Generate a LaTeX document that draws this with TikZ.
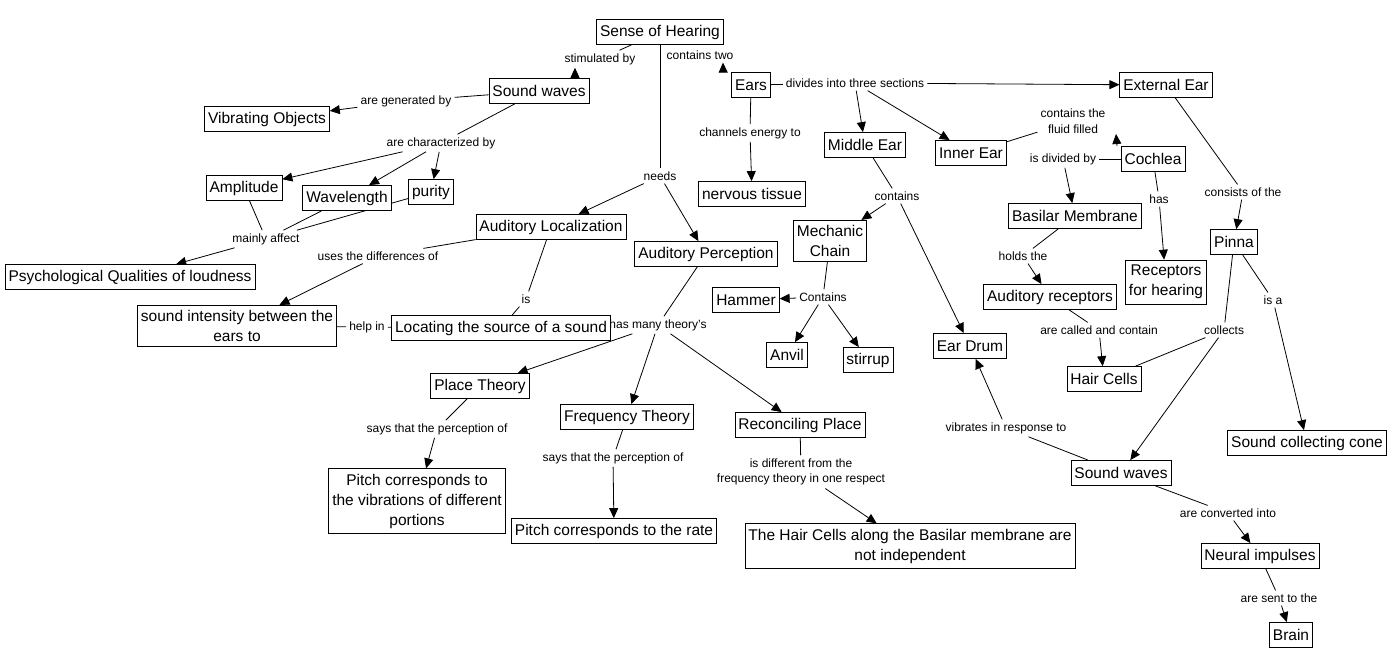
\documentclass[tikz,border=0pt]{standalone}
\usepackage{fontspec}
\setmainfont{Liberation Sans}
\usepackage{tikz}
\usetikzlibrary{arrows.meta}
\pgfdeclarelayer{background}
\pgfsetlayers{background,main}

\begin{document}
\begin{tikzpicture}
  [
    x=1pt, y=-1pt,
    Concept/.style={rectangle, draw=black, fill=white, line width=0.8pt, inner xsep=3.5pt, inner ysep=5pt, minimum height=25pt, align=center, font=\fontsize{15.5}{20}\selectfont},
    Link/.style={inner sep=3pt, align=center, font=\fontsize{12}{15.5}\selectfont},
    Arrow/.style={draw, line width=0.8pt, -{Triangle[length=10pt, width=9pt]}},
    Line/.style={draw, line width=0.8pt}
  ]
  \useasboundingbox (0,0) rectangle (1399,667);
  % Concepts
  \node[Concept] (hearing) at (660,32) {Sense of Hearing};
  \node[Concept] (waves) at (539,91) {Sound waves};
  \node[Concept] (vibrating) at (267,119) {Vibrating Objects};
  \node[Concept] (amplitude) at (244,188) {Amplitude};
  \node[Concept] (wavelength) at (347,198) {Wavelength};
  \node[Concept] (purity) at (431,192) {purity};
  \node[Concept] (loudness) at (130,277) {Psychological Qualities of loudness};
  \node[Concept] (localization) at (551,227) {Auditory Localization};
  \node[Concept] (perception) at (706,254) {Auditory Perception};
  \node[Concept] (intensity) at (237,326) {sound intensity between the\\ears to};
  \node[Concept] (locating) at (501,328) {Locating the source of a sound};
  \node[Concept] (ears) at (751,85) {Ears};
  \node[Concept] (tissue) at (752,194) {nervous tissue};
  \node[Concept] (middle) at (865,145) {Middle Ear};
  \node[Concept] (inner) at (971,153) {Inner Ear};
  \node[Concept] (external) at (1166,85) {External Ear};
  \node[Concept] (cochlea) at (1153,159) {Cochlea};
  \node[Concept] (basilar) at (1075,216) {Basilar Membrane};
  \node[Concept] (receptors) at (1166,282) {Receptors\\for hearing};
  \node[Concept] (pinna) at (1234,242) {Pinna};
  \node[Concept] (audreceptors) at (1050,297) {Auditory receptors};
  \node[Concept] (haircells) at (1104,379) {Hair Cells};
  \node[Concept] (cone) at (1307,443) {Sound collecting cone};
  \node[Concept] (waves2) at (1121,473) {Sound waves};
  \node[Concept] (neural) at (1260,556) {Neural impulses};
  \node[Concept] (brain) at (1291,635) {Brain};
  \node[Concept] (chain) at (830,241) {Mechanic\\Chain};
  \node[Concept] (hammer) at (746,300) {Hammer};
  \node[Concept] (anvil) at (787,355) {Anvil};
  \node[Concept] (stirrup) at (868,360) {stirrup};
  \node[Concept] (drum) at (970,346) {Ear Drum};
  \node[Concept] (place) at (480,386) {Place Theory};
  \node[Concept] (frequency) at (627,417) {Frequency Theory};
  \node[Concept] (reconciling) at (800,425) {Reconciling Place};
  \node[Concept] (pitchvib) at (417,501) {Pitch corresponds to\\the vibrations of different\\portions};
  \node[Concept] (pitchrate) at (614,531) {Pitch corresponds to the rate};
  \node[Concept] (independent) at (910,546) {The Hair Cells along the Basilar membrane are\\not independent};
  % Linking phrases
  \node[Link] (stimulated) at (600,59) {stimulated by};
  \node[Link] (containstwo) at (700,55) {contains two};
  \node[Link] (generated) at (406,101) {are generated by};
  \node[Link] (characterized) at (441,143) {are characterized by};
  \node[Link] (affect) at (266,239) {mainly affect};
  \node[Link] (needs) at (660,176) {needs};
  \node[Link] (differences) at (378,256) {uses the differences of};
  \node[Link] (islink) at (526,299) {is};
  \node[Link] (helpin) at (367,327) {help in};
  \node[Link] (theories) at (658,325) {has many theory's};
  \node[Link] (channels) at (750,133) {channels energy to};
  \node[Link] (divides) at (855,83) {divides into three sections};
  \node[Link] (fluid) at (1073,121) {contains the\\fluid filled};
  \node[Link] (divided) at (1063,159) {is divided by};
  \node[Link] (has) at (1159,199) {has};
  \node[Link] (consists) at (1243,192) {consists of the};
  \node[Link] (contains) at (897,196) {contains};
  \node[Link] (holds) at (1023,256) {holds the};
  \node[Link] (called) at (1099,330) {are called and contain};
  \node[Link] (containsb) at (823,297) {Contains};
  \node[Link] (collects) at (1224,330) {collects};
  \node[Link] (isa) at (1273,300) {is a};
  \node[Link] (vibrates) at (1006,428) {vibrates in response to};
  \node[Link] (saysa) at (437,429) {says that the perception of};
  \node[Link] (saysb) at (613,458) {says that the perception of};
  \node[Link] (different) at (801,472) {is different from the\\frequency theory in one respect};
  \node[Link] (converted) at (1228,513) {are converted into};
  \node[Link] (sent) at (1279,598) {are sent to the};
  \coordinate (fluidtip) at (1116,134);
  % Lines
  \begin{pgfonlayer}{background}
    \path[fill=white] (0,0) rectangle (1399,667);
    \path [Line] (hearing) -- (stimulated);
    \path [Arrow] ([xshift=36pt]waves.north) -- ([xshift=-25pt]stimulated.south);
    \path [Arrow] ([xshift=-8pt]ears.north west) -- ([xshift=23pt]containstwo.south);
    \path [Line] (hearing) -- (needs);
    \path [Arrow] (needs) -- (localization);
    \path [Arrow] (needs) -- (perception);
    \path [Line] (waves) -- (generated);
    \path [Arrow] (generated) -- (vibrating);
    \path [Line] (waves) -- (characterized);
    \path [Arrow] (characterized) -- (amplitude);
    \path [Arrow] (characterized) -- (wavelength);
    \path [Arrow] (characterized) -- (purity);
    \path [Line] (amplitude) -- (affect);
    \path [Line] (wavelength) -- (affect);
    \path [Line] (purity) -- (affect);
    \path [Arrow] (affect) -- (loudness);
    \path [Line] (localization) -- (differences);
    \path [Arrow] (differences) -- (intensity);
    \path [Line] (localization) -- (islink);
    \path [Line] (islink) -- (locating);
    \path [Line] (intensity) -- (helpin);
    \path [Line] (helpin) -- (locating);
    \path [Line] (perception) -- (theories);
    \path [Arrow] (theories) -- (place);
    \path [Arrow] (theories) -- (frequency);
    \path [Arrow] (theories) -- (reconciling);
    \path [Line] (place) -- (saysa);
    \path [Arrow] (saysa) -- (pitchvib);
    \path [Line] (frequency) -- (saysb);
    \path [Arrow] (saysb) -- (pitchrate);
    \path [Line] (reconciling) -- (different);
    \path [Arrow] (different) -- (independent);
    \path [Line] (ears) -- (channels);
    \path [Arrow] (channels) -- (tissue);
    \path [Line] (ears) -- (divides);
    \path [Arrow] (divides) -- (external);
    \path [Arrow] (divides) -- (middle);
    \path [Arrow] (divides) -- (inner);
    \path [Line] (middle) -- (contains);
    \path [Arrow] (contains) -- (chain);
    \path [Arrow] (contains) -- (drum);
    \path [Line] (chain) -- (containsb);
    \path [Arrow] (containsb) -- (hammer);
    \path [Arrow] (containsb) -- (anvil);
    \path [Arrow] (containsb) -- (stirrup);
    \path [Line] (inner) -- (fluid);
    \path [Arrow] ([xshift=-36pt]cochlea.north) -- (fluidtip);
    \path [Line] (cochlea) -- (divided);
    \path [Arrow] (divided) -- (basilar);
    \path [Line] (cochlea) -- (has);
    \path [Arrow] (has) -- (receptors);
    \path [Line] (basilar) -- (holds);
    \path [Arrow] (holds) -- (audreceptors);
    \path [Line] (audreceptors) -- (called);
    \path [Arrow] (called) -- (haircells);
    \path [Line] (external) -- (consists);
    \path [Arrow] (consists) -- (pinna);
    \path [Line] (pinna) -- (collects);
    \path [Arrow] (collects) -- (waves2);
    \path [Line] (collects) -- (haircells);
    \path [Line] (pinna) -- (isa);
    \path [Arrow] (isa) -- (cone);
    \path [Line] (waves2) -- (vibrates);
    \path [Arrow] (vibrates) -- (drum);
    \path [Line] (waves2) -- (converted);
    \path [Arrow] (converted) -- (neural);
    \path [Line] (neural) -- (sent);
    \path [Arrow] (sent) -- (brain);
  \end{pgfonlayer}
\end{tikzpicture}
\end{document}
